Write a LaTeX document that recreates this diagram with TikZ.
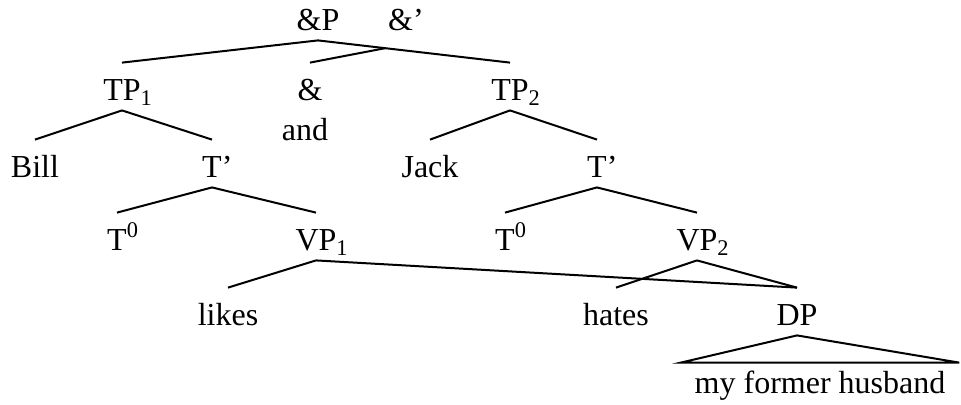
\documentclass[tikz,border=0pt]{standalone}
\usepackage{fontspec}
\setmainfont{Liberation Serif}
\usetikzlibrary{calc}
\tikzset{
	cat/.style={
		anchor=base,
		inner sep=0pt,
		text height=18.5pt,
		text depth=5pt,
		font=\fontsize{16}{19}\selectfont,
	},
	roofed/.style={
		anchor=base,
		inner xsep=6.75pt,
		inner ysep=0pt,
		text height=15pt,
		text depth=0pt,
		font=\fontsize{16}{19}\selectfont,
	},
	branch/.style={
		line width=1pt,
	}
}

\begin{document}
\begin{tikzpicture}[x=0.5pt,y=-0.5pt]
	\useasboundingbox (0,0) rectangle (961,404);
	% top level
	\node [cat] (AP) at (318,30) {\&P};
	\node [cat] (Abar) at (406,30) {\&'};
	\node [cat] (TP1) at (122,100) {TP\rlap{\textsubscript{1}}};
	\node [cat] (amp) at (310,100) {\&};
	\node [cat] (and) at (305,140) {and};
	\node [cat] (TP2) at (510,100) {TP\rlap{\textsubscript{2}}};
	% subjects
	\node [cat] (Bill) at (35,177) {Bill};
	\node [cat] (Tb1) at (212,177) {T\rlap{'}};
	\node [cat] (Jack) at (430,177) {Jack};
	\node [cat] (Tb2) at (597,177) {T\rlap{'}};
	% T and VP
	\node [cat] (T0a) at (117,250) {T\rlap{\textsuperscript{0}}};
	\node [cat] (VP1) at (316,250) {VP\rlap{\textsubscript{1}}};
	\node [cat] (T0b) at (505,250) {T\rlap{\textsuperscript{0}}};
	\node [cat] (VP2) at (697,250) {VP\rlap{\textsubscript{2}}};
	% verbs and shared object
	\node [cat] (likes) at (228,325) {likes};
	\node [cat] (hates) at (616,325) {hates};
	\node [cat] (DP) at (797,325) {DP};
	\node [roofed] (husb) at (820,393) {my former husband};

	\draw[branch] (AP.south) -- (TP1.north);
	\draw[branch] (AP.south) -- (TP2.north);
	\draw[branch] ($(AP.south)!0.35!(TP2.north)$) -- (amp.north);

	\draw[branch] (TP1.south) -- (Bill.north);
	\draw[branch] (TP1.south) -- (Tb1.north);
	\draw[branch] (TP2.south) -- (Jack.north);
	\draw[branch] (TP2.south) -- (Tb2.north);

	\draw[branch] (Tb1.south) -- (T0a.north);
	\draw[branch] (Tb1.south) -- (VP1.north);
	\draw[branch] (Tb2.south) -- (T0b.north);
	\draw[branch] (Tb2.south) -- (VP2.north);

	\draw[branch] (VP1.south) -- (likes.north);
	\draw[branch] (VP1.south) -- (DP.north);
	\draw[branch] (VP2.south) -- (hates.north);
	\draw[branch] (VP2.south) -- (DP.north);

	\draw[branch] (DP.south) -- (husb.north west) -- (husb.north east) -- cycle;
\end{tikzpicture}
\end{document}
